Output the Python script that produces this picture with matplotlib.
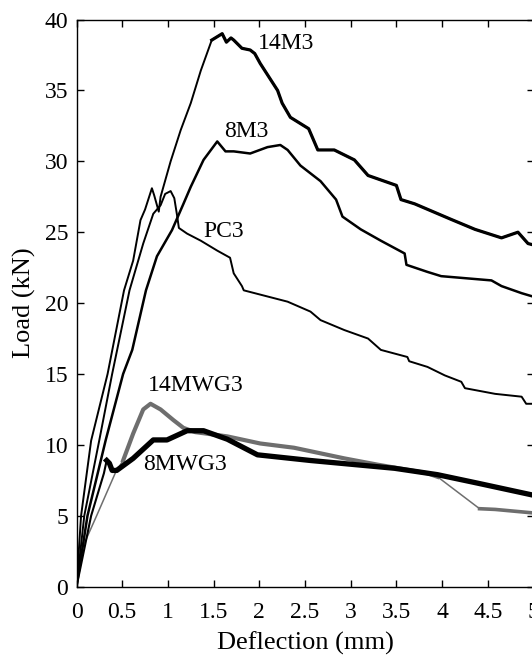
import matplotlib
matplotlib.use("Agg")
import matplotlib.pyplot as plt

# ---------------- data ----------------
x_14M3 = [0, 0.05, 0.16, 0.34, 0.52, 0.62, 0.70, 0.75, 0.825, 0.85, 0.90, 0.92, 1.03, 1.14,
          1.25, 1.36, 1.48, 1.594, 1.64, 1.69, 1.72, 1.81, 1.90, 1.95, 2.01, 2.20, 2.25, 2.34,
          2.54, 2.64, 2.82, 3.04, 3.19, 3.50, 3.55, 3.70, 4.10, 4.36, 4.65, 4.83, 4.94, 5.0]
y_14M3 = [0, 5.0, 10.3, 15.0, 20.9, 23.0, 25.85, 26.6, 28.1, 27.6, 26.45, 27.5, 30.0, 32.2,
          34.1, 36.4, 38.55, 39.0, 38.4, 38.7, 38.55, 37.97, 37.85, 37.6, 36.9, 35.0, 34.1, 33.1,
          32.3, 30.8, 30.8, 30.1, 29.0, 28.3, 27.3, 27.0, 25.9, 25.2, 24.6, 25.0, 24.2, 24.1]

x_8M3 = [0, 0.12, 0.32, 0.51, 0.61, 0.76, 0.88, 1.045, 1.17, 1.25, 1.39, 1.54, 1.63, 1.72,
         1.90, 2.09, 2.23, 2.31, 2.45, 2.67, 2.84, 2.91, 3.11, 3.33, 3.59, 3.61, 3.84, 3.99,
         4.54, 4.65, 4.87, 5.0]
y_8M3 = [0, 5.0, 10.35, 15.0, 16.7, 20.9, 23.3, 25.15, 27.0, 28.2, 30.1, 31.4, 30.7, 30.7,
         30.55, 31.0, 31.15, 30.8, 29.7, 28.6, 27.3, 26.1, 25.2, 24.4, 23.5, 22.7, 22.2, 21.9,
         21.6, 21.2, 20.7, 20.45]

x_PC3 = [0, 0.085, 0.25, 0.39, 0.58, 0.73, 0.84, 0.92, 0.97, 1.03, 1.07, 1.10, 1.12, 1.21,
         1.36, 1.54, 1.68, 1.72, 1.81, 1.83, 2.01, 2.31, 2.56, 2.67, 2.93, 3.19, 3.33, 3.62,
         3.64, 3.84, 4.03, 4.21, 4.25, 4.58, 4.87, 4.92, 5.0]
y_PC3 = [0, 5.0, 10.35, 15.0, 20.9, 24.2, 26.3, 26.9, 27.7, 27.9, 27.4, 26.2, 25.3, 24.9,
         24.4, 23.7, 23.2, 22.1, 21.2, 20.9, 20.6, 20.1, 19.4, 18.8, 18.1, 17.5, 16.7, 16.2,
         15.9, 15.5, 14.9, 14.45, 14.0, 13.6, 13.4, 12.9, 12.9]

x_14MWG3 = [0, 0.068, 0.22, 0.43, 0.51, 0.62, 0.73, 0.81, 0.92, 1.06, 1.17, 1.30, 1.65,
            2.01, 2.38, 2.93, 3.30, 3.84, 3.95, 4.41, 4.58, 5.0]
y_14MWG3 = [0, 2.8, 5.0, 8.1, 8.9, 10.8, 12.5, 12.9, 12.5, 11.75, 11.2, 10.9, 10.6,
            10.1, 9.8, 9.05, 8.6, 8.0, 7.75, 5.5, 5.45, 5.2]

x_8MWG3 = [0, 0.16, 0.30, 0.33, 0.36, 0.39, 0.44, 0.62, 0.84, 0.99, 1.21, 1.39, 1.65, 1.98,
           2.56, 3.48, 3.95, 4.39, 5.0]
y_8MWG3 = [0, 5.0, 8.0, 8.9, 8.7, 8.2, 8.2, 9.05, 10.35, 10.35, 11.0, 11.0, 10.4, 9.3,
           8.9, 8.35, 7.9, 7.3, 6.45]

labels = ["14M3", "8M3", "PC3", "14MWG3", "8MWG3"]
label_xy = [(1.98, 38.3), (1.61, 32.1), (1.385, 25.05), (0.78, 14.2), (0.73, 8.6)]

x_ticks = [0, 0.5, 1, 1.5, 2, 2.5, 3, 3.5, 4, 4.5, 5]
x_tick_labels = ["0", "0.5", "1", "1.5", "2", "2.5", "3", "3.5", "4", "4.5", "5"]
y_ticks = [0, 5, 10, 15, 20, 25, 30, 35, 40]

# ---------------- plot ----------------
plt.rcParams['font.family'] = ['Liberation Serif', 'DejaVu Serif']

fig = plt.figure(figsize=(5.32, 6.55), dpi=100)
ax = fig.add_axes([76.5 / 532, (655 - 586.7) / 655, (533.5 - 76.5) / 532, (586.7 - 19.5) / 655])

gray = '#6e6e6e'
ax.plot(x_14MWG3, y_14MWG3, color=gray, lw=1.1, solid_joinstyle='round')
ax.plot(x_14MWG3[4:19], y_14MWG3[4:19], color=gray, lw=3.0, solid_joinstyle='round')
ax.plot(x_14MWG3[19:], y_14MWG3[19:], color=gray, lw=2.6, solid_joinstyle='round')
ax.plot(x_8MWG3, y_8MWG3, color='black', lw=1.5, solid_joinstyle='round')
ax.plot(x_8MWG3[3:], y_8MWG3[3:], color='black', lw=3.8, solid_joinstyle='round')
ax.plot(x_PC3, y_PC3, color='black', lw=1.4, solid_joinstyle='round')
ax.plot(x_8M3, y_8M3, color='black', lw=1.8, solid_joinstyle='round')
ax.plot(x_14M3, y_14M3, color='black', lw=1.4, solid_joinstyle='round')
ax.plot(x_14M3[16:], y_14M3[16:], color='black', lw=2.3, solid_joinstyle='round')

for lab, (lx, ly) in zip(labels, label_xy):
    ax.text(lx, ly, lab, fontsize=17, ha='left', va='center', color='black')

ax.set_xlim(0, 5)
ax.set_ylim(0, 40)
ax.set_xticks(x_ticks)
ax.set_xticklabels(x_tick_labels)
ax.set_yticks(y_ticks)
ax.tick_params(direction='in', top=True, right=True, length=5, width=1, labelsize=17)
ax.tick_params(axis='x', pad=11)
ax.tick_params(axis='y', pad=6)
for s in ax.spines.values():
    s.set_linewidth(1.0)

ax.set_xlabel("Deflection (mm)", fontsize=19, labelpad=6)
ax.set_ylabel("Load (kN)", fontsize=19, labelpad=6)

fig.savefig("out.png", dpi=100)
